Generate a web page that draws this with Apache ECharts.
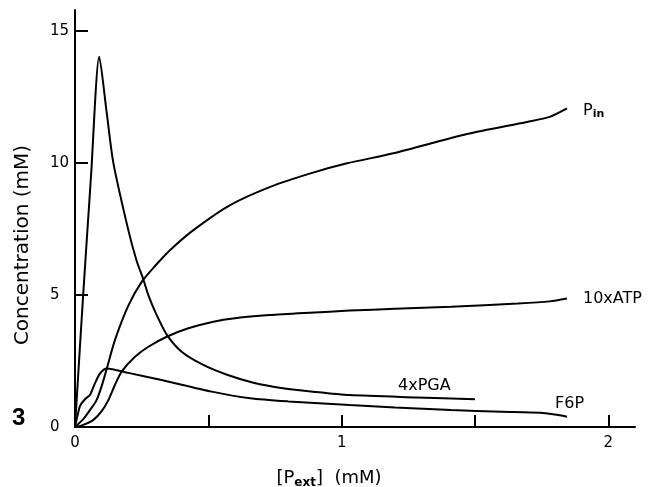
<!DOCTYPE html>
<html>
<head>
<meta charset="utf-8">
<script src="https://cdn.jsdelivr.net/npm/echarts@6/dist/echarts.min.js"></script>
<style>
html,body{margin:0;padding:0;background:#fff;}
#chart{width:660px;height:487px;}
</style>
</head>
<body>
<div id="chart"></div>
<script>
// [P_ext] (mM) values and concentrations (mM)
const pinX = [0, 0.031, 0.056, 0.08, 0.1, 0.118, 0.15, 0.2, 0.25, 0.3, 0.356, 0.444, 0.58, 0.732, 0.88, 1.02, 1.194, 1.47, 1.695, 1.78, 1.845];
const pinY = [0, 0.3, 0.64, 1.0, 1.55, 2.17, 3.3, 4.6, 5.5, 6.1, 6.7, 7.46, 8.4, 9.1, 9.6, 9.99, 10.37, 11.1, 11.56, 11.75, 12.07];

const atpX = [0, 0.031, 0.069, 0.1, 0.125, 0.15, 0.175, 0.225, 0.275, 0.344, 0.425, 0.519, 0.6, 0.73, 0.88, 1.03, 1.2, 1.41, 1.66, 1.78, 1.845];
const atpY = [0, 0.08, 0.27, 0.6, 1.02, 1.6, 2.1, 2.66, 3.04, 3.42, 3.74, 3.99, 4.12, 4.24, 4.33, 4.41, 4.48, 4.56, 4.68, 4.76, 4.87];

const pgaX = [0, 0.03, 0.06, 0.091, 0.119, 0.144, 0.2, 0.231, 0.256, 0.275, 0.306, 0.344, 0.4, 0.481, 0.57, 0.669, 0.78, 0.9, 1.03, 1.28, 1.5];
const pgaY = [0, 4.9, 9.5, 14.03, 11.9, 10.0, 7.46, 6.3, 5.6, 5.0, 4.25, 3.5, 2.85, 2.35, 1.98, 1.68, 1.47, 1.33, 1.21, 1.12, 1.05];

const f6pX = [0, 0.01, 0.019, 0.04, 0.056, 0.075, 0.094, 0.119, 0.2, 0.325, 0.513, 0.657, 0.8, 1.03, 1.2, 1.41, 1.6, 1.745, 1.8, 1.845];
const f6pY = [0, 0.45, 0.8, 1.08, 1.21, 1.66, 2.03, 2.22, 2.05, 1.78, 1.34, 1.09, 0.97, 0.83, 0.74, 0.64, 0.58, 0.54, 0.47, 0.39];

const xLabelValues = [0, 1, 2];
const xTickValues = [0.5, 1, 1.5, 2];
const yLabelValues = [0, 5, 10, 15];
const yTickValues = [5, 10, 15];

const seriesNames = ['P_in', '10xATP', '4xPGA', 'F6P'];

function pairs(xs, ys) { return xs.map((x, i) => [x, ys[i]]); }

const FONT = 'DejaVu Sans';
const chart = echarts.init(document.getElementById('chart'), null, {renderer: 'canvas'});

function lineSeries(name, xs, ys, label) {
  return {
    name: name,
    type: 'line',
    data: pairs(xs, ys),
    smooth: 0.25,
    showSymbol: false,
    symbol: 'none',
    lineStyle: {color: '#000', width: 2},
    itemStyle: {color: '#000'},
    animation: false,
    endLabel: Object.assign({
      show: true,
      color: '#000',
      fontFamily: FONT,
      fontSize: 16
    }, label)
  };
}

chart.setOption({
  backgroundColor: '#fff',
  animation: false,
  grid: {left: 75, right: 25, top: 10, bottom: 60, containLabel: false, outerBoundsMode: 'none'},
  xAxis: {
    type: 'value',
    min: 0,
    max: 2.1,
    interval: 0.5,
    name: '[P{sub|ext}]  (mM)',
    nameLocation: 'middle',
    nameGap: 41,
    nameTextStyle: {
      color: '#000', fontFamily: FONT, fontSize: 18, padding: [0, 52, 0, 0],
      rich: {sub: {fontFamily: FONT, fontSize: 12, fontWeight: 'bold', padding: [9, 0, 0, 0], color: '#000'}}
    },
    splitLine: {show: false},
    axisLine: {show: true, onZero: false, lineStyle: {color: '#000', width: 2}},
    axisTick: {show: true, inside: true, length: 12, lineStyle: {color: '#000', width: 2}, customValues: xTickValues},
    axisLabel: {color: '#000', fontFamily: FONT, fontSize: 15, margin: 9, customValues: xLabelValues}
  },
  yAxis: {
    type: 'value',
    min: 0,
    max: 15.8,
    interval: 5,
    name: 'Concentration (mM)',
    nameLocation: 'middle',
    nameGap: 42,
    nameTextStyle: {color: '#000', fontFamily: FONT, fontSize: 20, padding: [0, 53, 0, 0]},
    splitLine: {show: false},
    axisLine: {show: true, onZero: false, lineStyle: {color: '#000', width: 2}},
    axisTick: {show: true, inside: true, length: 13, lineStyle: {color: '#000', width: 2}, customValues: yTickValues},
    axisLabel: {color: '#000', fontFamily: FONT, fontSize: 15, margin: 25, align: 'left', customValues: yLabelValues}
  },
  series: [
    lineSeries(seriesNames[0], pinX, pinY, {
      formatter: 'P{sub|in}', offset: [8, 2],
      rich: {sub: {fontFamily: FONT, fontSize: 11, fontWeight: 'bold', padding: [8, 0, 0, 0], color: '#000'}}
    }),
    lineSeries(seriesNames[1], atpX, atpY, {formatter: '10xATP', offset: [8, 0]}),
    lineSeries(seriesNames[2], pgaX, pgaY, {formatter: '4xPGA', offset: [-85, -13]}),
    lineSeries(seriesNames[3], f6pX, f6pY, {formatter: 'F6P', offset: [-20, -13]})
  ],
  graphic: [{
    type: 'text',
    left: 12,
    top: 406,
    style: {text: '3', fill: '#000', font: 'bold 24px "Liberation Sans", Arial, sans-serif'}
  }]
});
</script>
</body>
</html>
